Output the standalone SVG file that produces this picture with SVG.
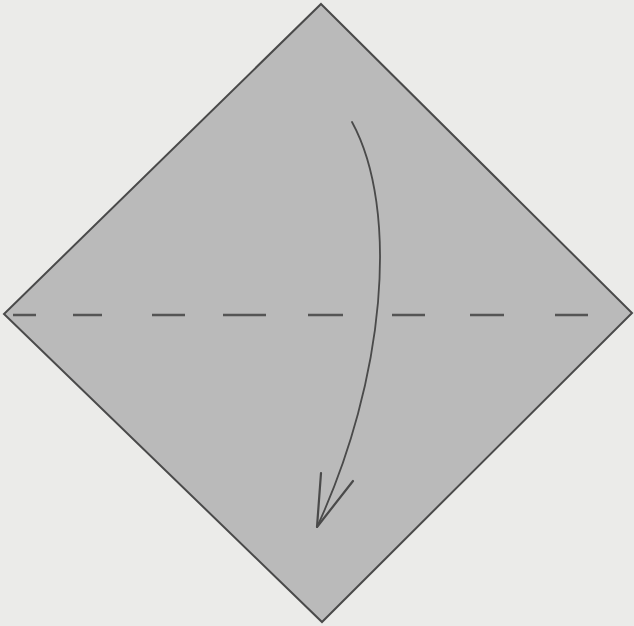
<svg xmlns="http://www.w3.org/2000/svg" width="634" height="626" viewBox="0 0 634 626">
  <style>
    .edge { fill: #bababa; stroke: #4a4a4a; stroke-width: 2; stroke-linejoin: miter; }
    .fold { stroke: #555; stroke-width: 2.5; stroke-linecap: butt; }
    .arrow { fill: none; stroke: #4a4a4a; stroke-width: 1.8; stroke-linecap: round; stroke-linejoin: round; }
  </style>
  <rect width="634" height="626" fill="#ebebe9"/>
  <g id="paper">
    <polygon class="edge" points="321,4 632,313 322,622 4,314"/>
  </g>
  <g id="valley-fold">
    <line class="fold" x1="13" y1="315" x2="36" y2="315"/>
    <line class="fold" x1="73" y1="315" x2="102" y2="315"/>
    <line class="fold" x1="152" y1="315" x2="185" y2="315"/>
    <line class="fold" x1="223" y1="315" x2="266" y2="315"/>
    <line class="fold" x1="308" y1="315" x2="343" y2="315"/>
    <line class="fold" x1="392" y1="315" x2="425" y2="315"/>
    <line class="fold" x1="470" y1="315" x2="504" y2="315"/>
    <line class="fold" x1="555" y1="315" x2="588" y2="315"/>
  </g>
  <g id="connectors">
    <path class="arrow" d="M352,122 C400,210 385,380 317,527"/>
    <path class="arrow" d="M321,473 L317,527 L353,481" style="stroke-width:2.2"/>
  </g>
</svg>
